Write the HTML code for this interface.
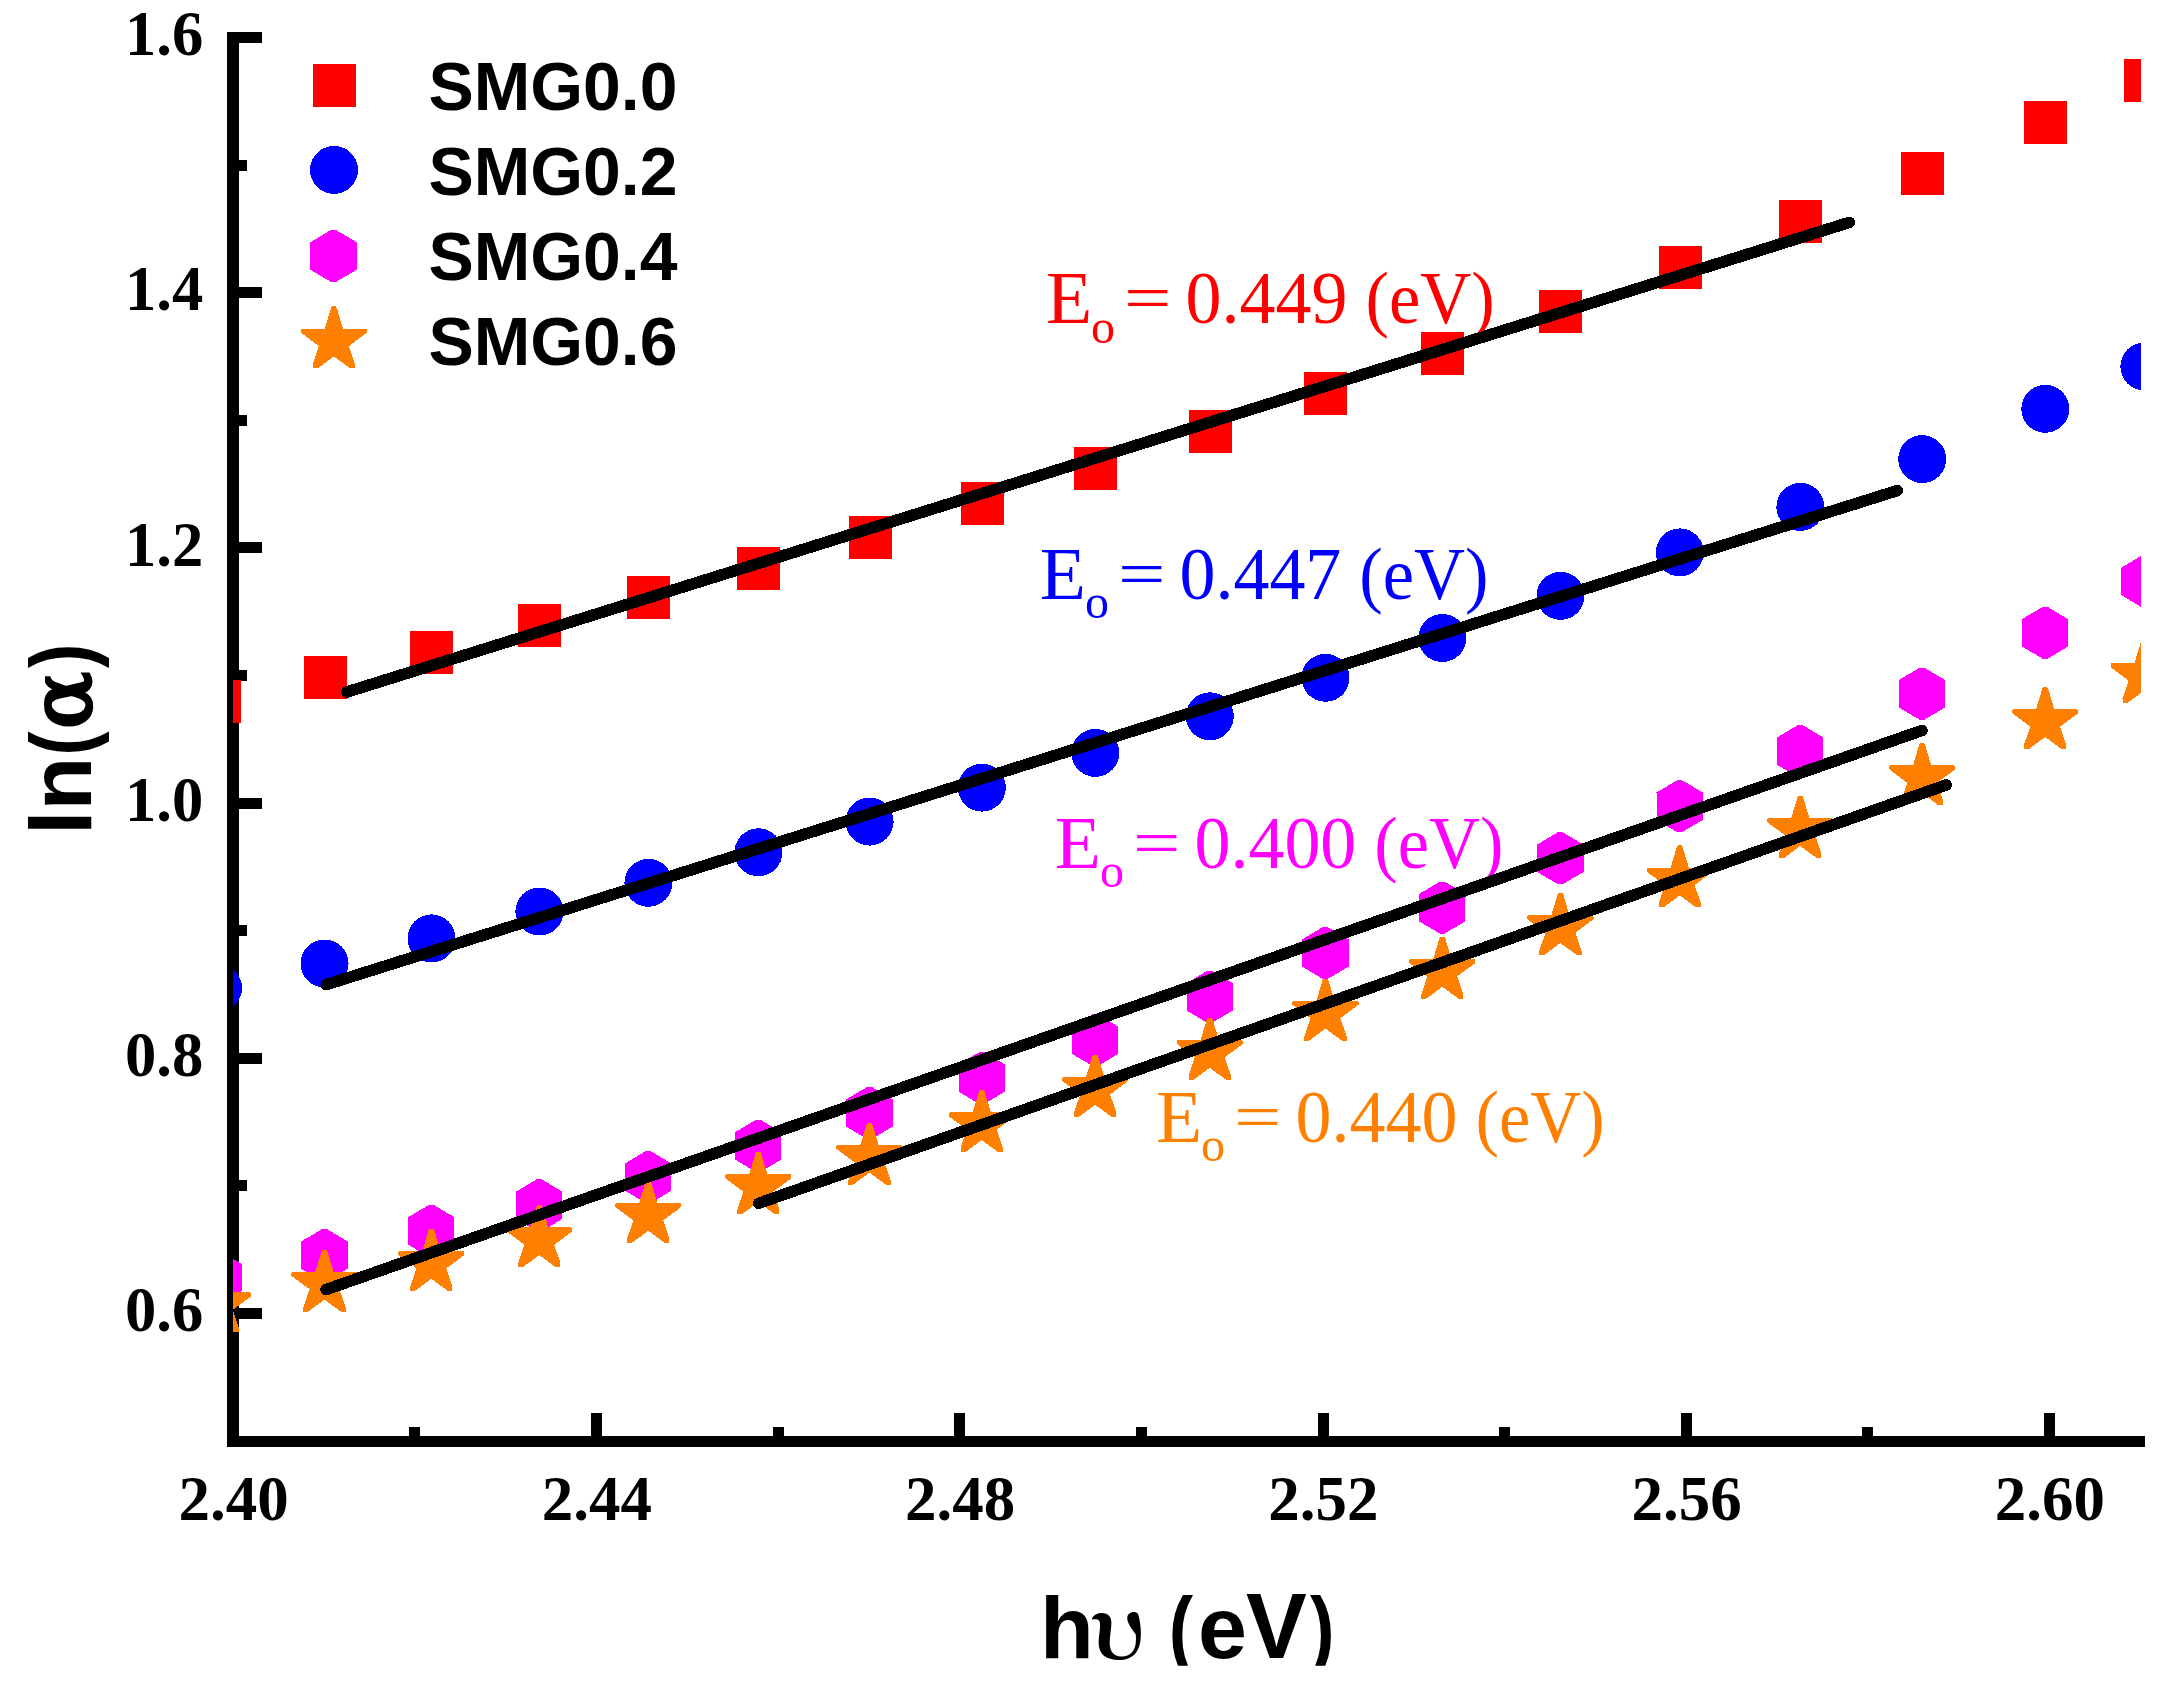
<!DOCTYPE html>
<html><head><meta charset="utf-8"><title>ln(alpha) vs hv</title>
<style>
html,body{margin:0;padding:0;background:#fff;}
svg{display:block}
.tk{font-family:"Liberation Serif",serif;font-weight:bold;font-size:62px;fill:#000}
.lg{font-family:"Liberation Sans",sans-serif;font-weight:bold;font-size:67px;fill:#000}
.ti{font-family:"Liberation Sans",sans-serif;font-weight:bold;font-size:88px;fill:#000}
.gk{font-family:"DejaVu Serif",serif;font-weight:normal;font-size:84.5px;fill:#000;stroke:#000;stroke-width:3.4px}
.an{font-family:"Liberation Serif",serif;font-size:72px}
.sb{font-family:"Liberation Serif",serif;font-size:48px}
.up{font-family:"Noto Serif CJK SC","Liberation Serif",serif;font-weight:bold;font-size:84.8px}
</style></head><body>
<svg width="2169" height="1689" viewBox="0 0 2169 1689">
<rect width="2169" height="1689" fill="#fff"/>
<defs><clipPath id="cp"><rect x="233" y="37" width="1908" height="1404"/></clipPath>
<clipPath id="cx"><rect x="1000" y="1560" width="400" height="105.8"/></clipPath></defs>

<g fill="#000" shape-rendering="crispEdges">
<rect x="227" y="32" width="12" height="1415"/>
<rect x="227" y="1436" width="1918" height="11"/>
<rect x="238" y="32" width="24" height="11"/>
<rect x="238" y="287" width="24" height="11"/>
<rect x="238" y="542" width="24" height="11"/>
<rect x="238" y="798" width="24" height="11"/>
<rect x="238" y="1053" width="24" height="11"/>
<rect x="238" y="1308" width="24" height="11"/>
<rect x="238" y="160" width="9" height="11"/>
<rect x="238" y="415" width="9" height="11"/>
<rect x="238" y="670" width="9" height="11"/>
<rect x="238" y="925" width="9" height="11"/>
<rect x="238" y="1180" width="9" height="11"/>
<rect x="591" y="1413" width="11" height="24"/>
<rect x="954" y="1413" width="11" height="24"/>
<rect x="1318" y="1413" width="11" height="24"/>
<rect x="1681" y="1413" width="11" height="24"/>
<rect x="2044" y="1413" width="11" height="24"/>
<rect x="409" y="1427" width="11" height="10"/>
<rect x="773" y="1427" width="11" height="10"/>
<rect x="1136" y="1427" width="11" height="10"/>
<rect x="1499" y="1427" width="11" height="10"/>
<rect x="1862" y="1427" width="11" height="10"/>
</g>
<text class="an" fill="#ff0000" transform="translate(1048.1,323.3) scale(1,1.025)"><tspan x="-2.2" textLength="46.19" lengthAdjust="spacingAndGlyphs">E</tspan><tspan class="sb" x="42.9" dy="18.8">o </tspan><tspan x="75.9" dy="-22.7" style="font-size:62.6px" textLength="47.49" lengthAdjust="spacingAndGlyphs">=</tspan> <tspan x="137.4" dy="3.9">0.449</tspan> <tspan x="317.3" textLength="129.27" lengthAdjust="spacingAndGlyphs">(eV)</tspan></text>
<text class="an" fill="#0000ff" transform="translate(1042,598.9) scale(1,1.025)"><tspan x="-2.2" textLength="46.19" lengthAdjust="spacingAndGlyphs">E</tspan><tspan class="sb" x="42.9" dy="18.8">o </tspan><tspan x="75.9" dy="-22.7" style="font-size:62.6px" textLength="47.49" lengthAdjust="spacingAndGlyphs">=</tspan> <tspan x="137.4" dy="3.9">0.447</tspan> <tspan x="317.3" textLength="129.27" lengthAdjust="spacingAndGlyphs">(eV)</tspan></text>
<text class="an" fill="#ff00ff" transform="translate(1057,868) scale(1,1.025)"><tspan x="-2.2" textLength="46.19" lengthAdjust="spacingAndGlyphs">E</tspan><tspan class="sb" x="42.9" dy="18.8">o </tspan><tspan x="75.9" dy="-22.7" style="font-size:62.6px" textLength="47.49" lengthAdjust="spacingAndGlyphs">=</tspan> <tspan x="137.4" dy="3.9">0.400</tspan> <tspan x="317.3" textLength="129.27" lengthAdjust="spacingAndGlyphs">(eV)</tspan></text>
<text class="an" fill="#ff8000" transform="translate(1158.1,1142) scale(1,1.025)"><tspan x="-2.2" textLength="46.19" lengthAdjust="spacingAndGlyphs">E</tspan><tspan class="sb" x="42.9" dy="18.8">o </tspan><tspan x="75.9" dy="-22.7" style="font-size:62.6px" textLength="47.49" lengthAdjust="spacingAndGlyphs">=</tspan> <tspan x="137.4" dy="3.9">0.440</tspan> <tspan x="317.3" textLength="129.27" lengthAdjust="spacingAndGlyphs">(eV)</tspan></text>
<g clip-path="url(#cp)" shape-rendering="crispEdges">
<g fill="#ff0000"><rect x="197.6" y="679.9" width="43" height="43"/><rect x="303.5" y="655.9" width="43" height="43"/><rect x="410.4" y="630.8" width="43" height="43"/><rect x="518.3" y="604.4" width="43" height="43"/><rect x="627.3" y="576.3" width="43" height="43"/><rect x="737.3" y="546.8" width="43" height="43"/><rect x="848.5" y="515.9" width="43" height="43"/><rect x="960.8" y="481.6" width="43" height="43"/><rect x="1074.2" y="446.9" width="43" height="43"/><rect x="1188.7" y="409.9" width="43" height="43"/><rect x="1304.4" y="372.0" width="43" height="43"/><rect x="1421.3" y="331.9" width="43" height="43"/><rect x="1539.4" y="289.9" width="43" height="43"/><rect x="1658.7" y="245.7" width="43" height="43"/><rect x="1779.3" y="200.4" width="43" height="43"/><rect x="1901.1" y="151.7" width="43" height="43"/><rect x="2024.2" y="101.4" width="43" height="43"/><rect x="2124.0" y="58.9" width="43" height="43"/></g>
<g fill="#0000ff"><circle cx="218.0" cy="988.0" r="24"/><circle cx="324.6" cy="963.5" r="24"/><circle cx="431.5" cy="938.4" r="24"/><circle cx="539.4" cy="911.5" r="24"/><circle cx="648.4" cy="882.8" r="24"/><circle cx="758.4" cy="852.3" r="24"/><circle cx="869.6" cy="821.6" r="24"/><circle cx="981.9" cy="787.6" r="24"/><circle cx="1095.3" cy="752.9" r="24"/><circle cx="1209.8" cy="716.3" r="24"/><circle cx="1325.5" cy="677.8" r="24"/><circle cx="1442.4" cy="638.0" r="24"/><circle cx="1560.5" cy="595.9" r="24"/><circle cx="1679.8" cy="552.4" r="24"/><circle cx="1800.4" cy="506.9" r="24"/><circle cx="1922.2" cy="459.1" r="24"/><circle cx="2045.3" cy="408.8" r="24"/><circle cx="2144.4" cy="366.5" r="24"/></g>
<g fill="#ff00ff"><polygon points="220.9,1251.5 241.7,1263.8 241.7,1291.2 220.9,1303.5 216.3,1303.5 195.5,1291.2 195.5,1263.8 216.3,1251.5"/><polygon points="326.7,1229.0 347.5,1241.4 347.5,1268.8 326.7,1281.1 322.1,1281.1 301.3,1268.8 301.3,1241.4 322.1,1229.0"/><polygon points="433.6,1204.9 454.4,1217.2 454.4,1244.6 433.6,1257.0 429.0,1257.0 408.1,1244.6 408.1,1217.2 429.0,1204.9"/><polygon points="541.5,1179.2 562.3,1191.6 562.3,1219.0 541.5,1231.3 536.9,1231.3 516.0,1219.0 516.0,1191.6 536.9,1179.2"/><polygon points="650.5,1151.0 671.3,1163.4 671.3,1190.8 650.5,1203.1 645.9,1203.1 625.0,1190.8 625.0,1163.4 645.9,1151.0"/><polygon points="760.5,1119.9 781.4,1132.2 781.4,1159.6 760.5,1172.0 755.9,1172.0 735.1,1159.6 735.1,1132.2 755.9,1119.9"/><polygon points="871.7,1087.0 892.5,1099.3 892.5,1126.7 871.7,1139.0 867.1,1139.0 846.3,1126.7 846.3,1099.3 867.1,1087.0"/><polygon points="984.0,1052.0 1004.8,1064.3 1004.8,1091.7 984.0,1104.0 979.4,1104.0 958.5,1091.7 958.5,1064.3 979.4,1052.0"/><polygon points="1097.4,1014.2 1118.2,1026.5 1118.2,1053.9 1097.4,1066.2 1092.8,1066.2 1071.9,1053.9 1071.9,1026.5 1092.8,1014.2"/><polygon points="1211.9,970.8 1232.7,983.1 1232.7,1010.5 1211.9,1022.8 1207.3,1022.8 1186.5,1010.5 1186.5,983.1 1207.3,970.8"/><polygon points="1327.6,927.0 1348.5,939.3 1348.5,966.7 1327.6,979.0 1323.0,979.0 1302.2,966.7 1302.2,939.3 1323.0,927.0"/><polygon points="1444.5,881.6 1465.4,893.9 1465.4,921.3 1444.5,933.6 1439.9,933.6 1419.1,921.3 1419.1,893.9 1439.9,881.6"/><polygon points="1562.6,832.2 1583.5,844.6 1583.5,872.0 1562.6,884.3 1558.0,884.3 1537.2,872.0 1537.2,844.6 1558.0,832.2"/><polygon points="1681.9,780.2 1702.8,792.5 1702.8,819.9 1681.9,832.2 1677.3,832.2 1656.5,819.9 1656.5,792.5 1677.3,780.2"/><polygon points="1802.5,725.1 1823.3,737.4 1823.3,764.8 1802.5,777.1 1797.9,777.1 1777.1,764.8 1777.1,737.4 1797.9,725.1"/><polygon points="1924.3,667.7 1945.1,680.0 1945.1,707.4 1924.3,719.8 1919.7,719.8 1898.9,707.4 1898.9,680.0 1919.7,667.7"/><polygon points="2047.4,606.8 2068.2,619.1 2068.2,646.5 2047.4,658.8 2042.8,658.8 2022.0,646.5 2022.0,619.1 2042.8,606.8"/><polygon points="2146.6,555.4 2167.4,567.7 2167.4,595.1 2146.6,607.4 2142.0,607.4 2121.2,595.1 2121.2,567.7 2142.0,555.4"/></g>
<g fill="#ff8000"><polygon points="219.9,1270.2 220.7,1272.0 226.9,1292.4 249.7,1292.4 250.9,1293.9 250.9,1296.3 249.7,1297.4 232.7,1310.0 238.9,1327.8 238.9,1332.2 234.0,1332.2 217.8,1320.3 201.7,1332.2 196.8,1332.2 196.8,1327.8 202.9,1310.0 185.9,1297.4 184.8,1296.3 184.8,1293.9 186.0,1292.4 208.8,1292.4 214.9,1272.0 215.8,1270.2"/><polygon points="326.5,1249.5 327.4,1251.3 333.5,1271.7 356.3,1271.7 357.5,1273.2 357.5,1275.6 356.4,1276.7 339.4,1289.3 345.5,1307.1 345.5,1311.5 340.6,1311.5 324.5,1299.6 308.3,1311.5 303.4,1311.5 303.4,1307.1 309.6,1289.3 292.6,1276.7 291.4,1275.6 291.4,1273.2 292.6,1271.7 315.4,1271.7 321.6,1251.3 322.4,1249.5"/><polygon points="433.4,1228.7 434.3,1230.4 440.4,1250.8 463.2,1250.8 464.4,1252.3 464.4,1254.7 463.3,1255.8 446.3,1268.4 452.4,1286.2 452.4,1290.7 447.5,1290.7 431.4,1278.8 415.2,1290.7 410.3,1290.7 410.3,1286.2 416.5,1268.4 399.5,1255.8 398.3,1254.7 398.3,1252.3 399.5,1250.8 422.3,1250.8 428.5,1230.4 429.3,1228.7"/><polygon points="541.3,1205.0 542.2,1206.8 548.3,1227.2 571.1,1227.2 572.3,1228.7 572.3,1231.1 571.2,1232.2 554.2,1244.8 560.3,1262.6 560.3,1267.0 555.4,1267.0 539.3,1255.1 523.1,1267.0 518.2,1267.0 518.2,1262.6 524.4,1244.8 507.4,1232.2 506.2,1231.1 506.2,1228.7 507.4,1227.2 530.2,1227.2 536.4,1206.8 537.2,1205.0"/><polygon points="650.3,1180.7 651.2,1182.4 657.3,1202.8 680.1,1202.8 681.3,1204.3 681.3,1206.7 680.2,1207.8 663.2,1220.4 669.3,1238.2 669.3,1242.7 664.4,1242.7 648.3,1230.8 632.1,1242.7 627.2,1242.7 627.2,1238.2 633.4,1220.4 616.4,1207.8 615.2,1206.7 615.2,1204.3 616.4,1202.8 639.2,1202.8 645.4,1182.4 646.2,1180.7"/><polygon points="760.4,1152.0 761.2,1153.7 767.4,1174.1 790.2,1174.1 791.4,1175.6 791.4,1178.0 790.2,1179.1 773.2,1191.7 779.4,1209.5 779.4,1214.0 774.5,1214.0 758.3,1202.0 742.2,1214.0 737.3,1214.0 737.3,1209.5 743.4,1191.7 726.4,1179.1 725.3,1178.0 725.3,1175.6 726.5,1174.1 749.3,1174.1 755.4,1153.7 756.3,1152.0"/><polygon points="871.5,1122.5 872.4,1124.3 878.5,1144.7 901.3,1144.7 902.5,1146.2 902.5,1148.6 901.4,1149.7 884.4,1162.3 890.5,1180.1 890.5,1184.5 885.6,1184.5 869.5,1172.6 853.3,1184.5 848.4,1184.5 848.4,1180.1 854.6,1162.3 837.6,1149.7 836.4,1148.6 836.4,1146.2 837.6,1144.7 860.4,1144.7 866.6,1124.3 867.4,1122.5"/><polygon points="983.8,1090.0 984.7,1091.7 990.8,1112.1 1013.6,1112.1 1014.8,1113.6 1014.8,1116.0 1013.7,1117.1 996.7,1129.7 1002.8,1147.5 1002.8,1152.0 997.9,1152.0 981.8,1140.0 965.6,1152.0 960.7,1152.0 960.7,1147.5 966.9,1129.7 949.9,1117.1 948.7,1116.0 948.7,1113.6 949.9,1112.1 972.7,1112.1 978.9,1091.7 979.7,1090.0"/><polygon points="1097.2,1054.7 1098.1,1056.4 1104.2,1076.8 1127.0,1076.8 1128.2,1078.3 1128.2,1080.7 1127.1,1081.8 1110.1,1094.4 1116.2,1112.2 1116.2,1116.7 1111.3,1116.7 1095.2,1104.8 1079.0,1116.7 1074.1,1116.7 1074.1,1112.2 1080.3,1094.4 1063.3,1081.8 1062.1,1080.7 1062.1,1078.3 1063.3,1076.8 1086.1,1076.8 1092.3,1056.4 1093.1,1054.7"/><polygon points="1211.8,1017.7 1212.6,1019.4 1218.8,1039.8 1241.6,1039.8 1242.8,1041.3 1242.8,1043.7 1241.6,1044.8 1224.6,1057.4 1230.8,1075.2 1230.8,1079.7 1225.9,1079.7 1209.7,1067.8 1193.6,1079.7 1188.7,1079.7 1188.7,1075.2 1194.8,1057.4 1177.8,1044.8 1176.7,1043.7 1176.7,1041.3 1177.9,1039.8 1200.7,1039.8 1206.8,1019.4 1207.7,1017.7"/><polygon points="1327.5,978.5 1328.3,980.2 1334.5,1000.6 1357.3,1000.6 1358.5,1002.1 1358.5,1004.5 1357.3,1005.6 1340.3,1018.2 1346.5,1036.0 1346.5,1040.5 1341.6,1040.5 1325.4,1028.5 1309.3,1040.5 1304.4,1040.5 1304.4,1036.0 1310.5,1018.2 1293.5,1005.6 1292.4,1004.5 1292.4,1002.1 1293.6,1000.6 1316.4,1000.6 1322.5,980.2 1323.4,978.5"/><polygon points="1444.4,936.7 1445.2,938.4 1451.4,958.8 1474.2,958.8 1475.4,960.3 1475.4,962.7 1474.2,963.8 1457.2,976.4 1463.4,994.2 1463.4,998.7 1458.5,998.7 1442.3,986.8 1426.2,998.7 1421.3,998.7 1421.3,994.2 1427.4,976.4 1410.4,963.8 1409.3,962.7 1409.3,960.3 1410.5,958.8 1433.3,958.8 1439.4,938.4 1440.3,936.7"/><polygon points="1562.5,893.0 1563.3,894.7 1569.5,915.1 1592.3,915.1 1593.5,916.6 1593.5,919.0 1592.3,920.1 1575.3,932.7 1581.5,950.5 1581.5,955.0 1576.6,955.0 1560.4,943.0 1544.3,955.0 1539.4,955.0 1539.4,950.5 1545.5,932.7 1528.5,920.1 1527.4,919.0 1527.4,916.6 1528.6,915.1 1551.4,915.1 1557.5,894.7 1558.4,893.0"/><polygon points="1681.8,845.4 1682.6,847.1 1688.8,867.5 1711.6,867.5 1712.8,869.0 1712.8,871.4 1711.6,872.5 1694.6,885.1 1700.8,902.9 1700.8,907.4 1695.9,907.4 1679.7,895.4 1663.6,907.4 1658.7,907.4 1658.7,902.9 1664.8,885.1 1647.8,872.5 1646.7,871.4 1646.7,869.0 1647.9,867.5 1670.7,867.5 1676.8,847.1 1677.7,845.4"/><polygon points="1802.3,795.9 1803.2,797.6 1809.3,818.0 1832.1,818.0 1833.3,819.5 1833.3,821.9 1832.2,823.0 1815.2,835.6 1821.3,853.4 1821.3,857.9 1816.4,857.9 1800.3,845.9 1784.1,857.9 1779.2,857.9 1779.2,853.4 1785.4,835.6 1768.4,823.0 1767.2,821.9 1767.2,819.5 1768.4,818.0 1791.2,818.0 1797.4,797.6 1798.2,795.9"/><polygon points="1924.2,743.1 1925.0,744.8 1931.2,765.2 1954.0,765.2 1955.2,766.7 1955.2,769.1 1954.0,770.2 1937.0,782.8 1943.2,800.6 1943.2,805.1 1938.3,805.1 1922.1,793.1 1906.0,805.1 1901.1,805.1 1901.1,800.6 1907.2,782.8 1890.2,770.2 1889.1,769.1 1889.1,766.7 1890.3,765.2 1913.1,765.2 1919.2,744.8 1920.1,743.1"/><polygon points="2047.2,687.0 2048.1,688.7 2054.2,709.1 2077.0,709.1 2078.2,710.6 2078.2,713.0 2077.1,714.1 2060.1,726.7 2066.2,744.5 2066.2,749.0 2061.3,749.0 2045.2,737.0 2029.0,749.0 2024.1,749.0 2024.1,744.5 2030.3,726.7 2013.3,714.1 2012.1,713.0 2012.1,710.6 2013.3,709.1 2036.1,709.1 2042.3,688.7 2043.1,687.0"/><polygon points="2145.7,641.0 2146.5,642.7 2152.7,663.1 2175.4,663.1 2176.7,664.6 2176.7,667.0 2175.5,668.1 2158.5,680.7 2164.7,698.5 2164.7,703.0 2159.8,703.0 2143.6,691.0 2127.4,703.0 2122.5,703.0 2122.5,698.5 2128.7,680.7 2111.7,668.1 2110.5,667.0 2110.5,664.6 2111.8,663.1 2134.5,663.1 2140.7,642.7 2141.5,641.0"/></g>
</g>
<g stroke="#000" stroke-width="11.6" stroke-linecap="round" shape-rendering="crispEdges">
<line x1="346.9" y1="692" x2="1849.4" y2="222.4"/>
<line x1="326.3" y1="984.6" x2="1897.3" y2="490.6"/>
<line x1="326" y1="1289.6" x2="1921.9" y2="730.5"/>
<line x1="758.8" y1="1203.3" x2="1946.1" y2="785"/>
</g>
<g shape-rendering="crispEdges">
<g fill="#ff0000"><rect x="313.0" y="63.9" width="43" height="43"/></g>
<g fill="#0000ff"><circle cx="334.0" cy="169.9" r="24"/></g>
<g fill="#ff00ff"><polygon points="335.8,229.9 356.6,242.3 356.6,269.7 335.8,282.1 331.2,282.1 310.4,269.7 310.4,242.3 331.2,229.9"/></g>
<g fill="#ff8000"><polygon points="335.9,306.3 336.8,308.1 342.9,328.5 365.8,328.5 366.9,330.0 366.9,332.4 365.8,333.5 348.8,346.1 354.9,363.9 354.9,368.3 350.0,368.3 333.9,356.4 317.8,368.3 312.8,368.3 312.8,363.9 319.0,346.1 302.0,333.5 300.8,332.4 300.8,330.0 302.0,328.5 324.8,328.5 331.0,308.1 331.8,306.3"/></g>
</g>
<text class="lg" transform="translate(428.5,110.0) scale(1.013,1.035)">SMG0.0</text>
<text class="lg" transform="translate(428.5,195.0) scale(1.013,1.035)">SMG0.2</text>
<text class="lg" transform="translate(428.5,280.0) scale(1.013,1.035)">SMG0.4</text>
<text class="lg" transform="translate(428.5,365.0) scale(1.013,1.035)">SMG0.6</text>
<text class="tk" text-anchor="end" transform="translate(203.3,55.2) scale(1.01,1.035)">1.6</text>
<text class="tk" text-anchor="end" transform="translate(203.3,310.4) scale(1.01,1.035)">1.4</text>
<text class="tk" text-anchor="end" transform="translate(203.3,565.6) scale(1.01,1.035)">1.2</text>
<text class="tk" text-anchor="end" transform="translate(203.3,820.8) scale(1.01,1.035)">1.0</text>
<text class="tk" text-anchor="end" transform="translate(203.3,1076.0) scale(1.01,1.035)">0.8</text>
<text class="tk" text-anchor="end" transform="translate(203.3,1331.2) scale(1.01,1.035)">0.6</text>
<text class="tk" text-anchor="middle" transform="translate(233.6,1519.9) scale(1.015,1.035)">2.40</text>
<text class="tk" text-anchor="middle" transform="translate(596.8,1519.9) scale(1.015,1.035)">2.44</text>
<text class="tk" text-anchor="middle" transform="translate(960.1,1519.9) scale(1.015,1.035)">2.48</text>
<text class="tk" text-anchor="middle" transform="translate(1323.3,1519.9) scale(1.015,1.035)">2.52</text>
<text class="tk" text-anchor="middle" transform="translate(1686.6,1519.9) scale(1.015,1.035)">2.56</text>
<text class="tk" text-anchor="middle" transform="translate(2049.8,1519.9) scale(1.015,1.035)">2.60</text>
<g clip-path="url(#cx)"><text class="ti" y="1657.7"><tspan x="1039.9">h</tspan><tspan class="up" x="1089.9" dy="1.3" textLength="55.7" lengthAdjust="spacingAndGlyphs">υ</tspan> <tspan x="1168.7" dy="-1.3" textLength="24.32" lengthAdjust="spacingAndGlyphs">(</tspan><tspan x="1198">e</tspan><tspan x="1246" style="font-size:92.2px" textLength="60.75" lengthAdjust="spacingAndGlyphs">V</tspan><tspan x="1310.1" textLength="24.6" lengthAdjust="spacingAndGlyphs">)</tspan></text></g>
<text class="ti" transform="translate(90.8,0) rotate(-90)"><tspan x="-835">ln</tspan><tspan x="-755.8" textLength="24.32" lengthAdjust="spacingAndGlyphs">(</tspan><tspan class="gk" x="-728.9">α</tspan><tspan x="-668" textLength="24.32" lengthAdjust="spacingAndGlyphs">)</tspan></text>
</svg></body></html>
